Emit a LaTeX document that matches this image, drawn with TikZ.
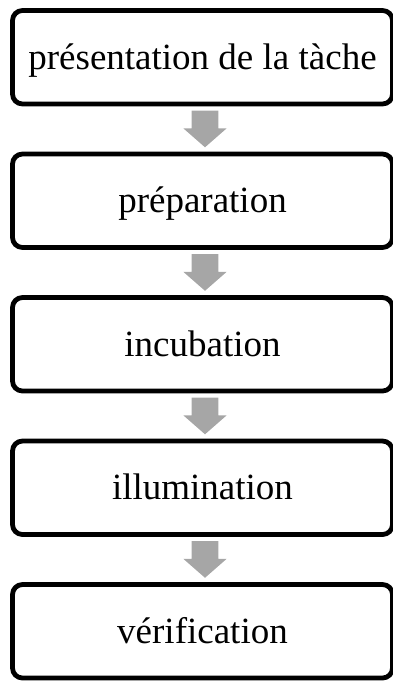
\documentclass[tikz,border=0pt]{standalone}
\usepackage{fontspec}
\setmainfont{Liberation Serif}
\usetikzlibrary{calc}
\definecolor{arrowgray}{RGB}{166,166,166}
\tikzset{
  stepbox/.style={draw, line width=4.8pt, rounded corners=10pt, inner sep=0pt,
    minimum width=380pt, minimum height=93.5pt, text height=24pt, text depth=0pt,
    font=\fontsize{37}{40}\selectfont},
  downarrow/.style={fill=arrowgray}
}
\begin{document}
\begin{tikzpicture}[x=1pt, y=1pt, yscale=-1, xscale=1]
\useasboundingbox (0, 0) rectangle (393, 682);
%Boxes
\node [stepbox] (t1) at (202.5, 57.25) {présentation de la tàche};
\node [stepbox] (t2) at (202.5, 200.75) {préparation};
\node [stepbox] (t3) at (202.5, 344.25) {incubation};
\node [stepbox] (t4) at (202.5, 487.75) {illumination};
\node [stepbox] (t5) at (202.5, 631.25) {vérification};
%Arrows
\foreach \a/\b in {t1/t2, t2/t3, t3/t4, t4/t5} {
  \coordinate (\a\b) at ($(\a.south)!0.5!(\b.north)+(2.5,0)$);
  \fill [downarrow, shift={(\a\b)}] (-13.3,-18.3) -- (13.3,-18.3) -- (13.3,-0.7) -- (21.7,-0.7)
    -- (0,18.3) -- (-21.7,-0.7) -- (-13.3,-0.7) -- cycle;
}
\end{tikzpicture}
\end{document}
